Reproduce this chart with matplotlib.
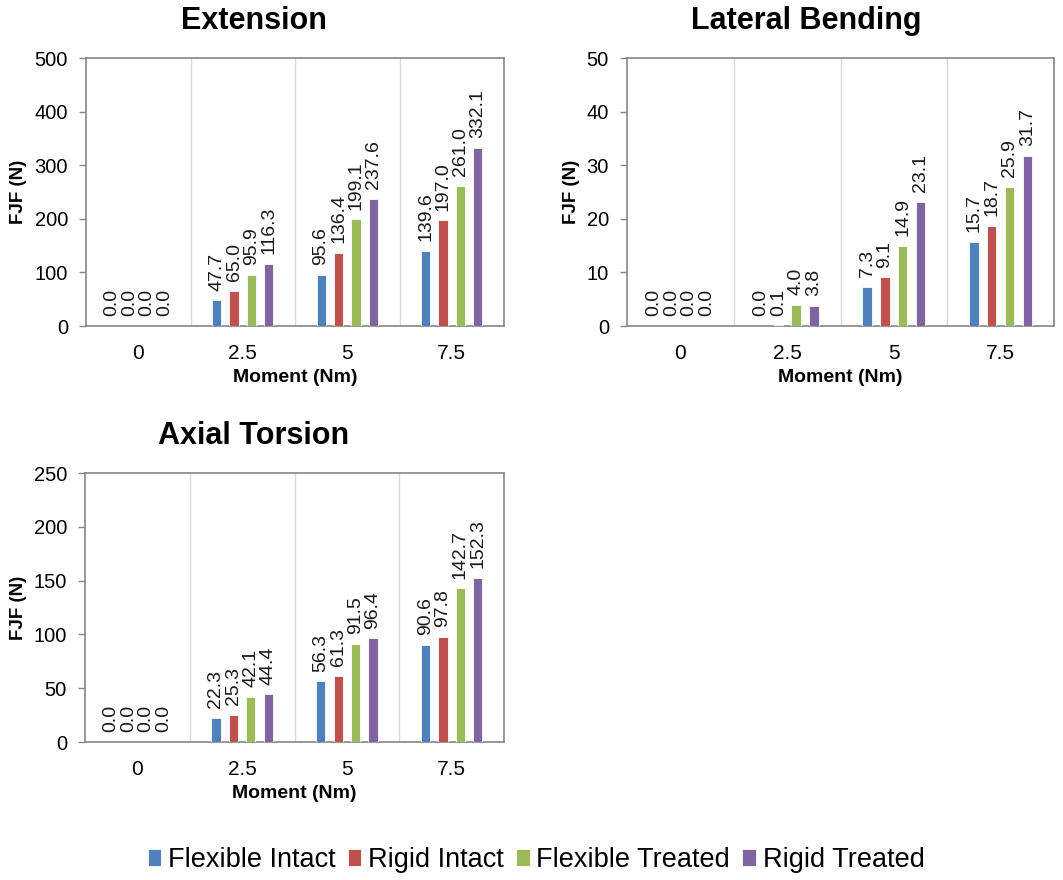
# FJF vs moment bar charts (Extension / Lateral Bending / Axial Torsion)

import matplotlib
matplotlib.use("Agg")
import matplotlib.pyplot as plt
import numpy as np

plt.rcParams["font.family"] = ["Liberation Sans", "DejaVu Sans"]

moments = ["0", "2.5", "5", "7.5"]
series = ["Flexible Intact", "Rigid Intact", "Flexible Treated", "Rigid Treated"]
COLORS = ["#4F81BD", "#C0504D", "#9BBB59", "#8064A2"]

# one list per series, values at 0 / 2.5 / 5 / 7.5 Nm
ext_flex_intact = [0.0, 47.7, 95.6, 139.6]
ext_rigid_intact = [0.0, 65.0, 136.4, 197.0]
ext_flex_treated = [0.0, 95.9, 199.1, 261.0]
ext_rigid_treated = [0.0, 116.3, 237.6, 332.1]

lb_flex_intact = [0.0, 0.0, 7.3, 15.7]
lb_rigid_intact = [0.0, 0.1, 9.1, 18.7]
lb_flex_treated = [0.0, 4.0, 14.9, 25.9]
lb_rigid_treated = [0.0, 3.8, 23.1, 31.7]

at_flex_intact = [0.0, 22.3, 56.3, 90.6]
at_rigid_intact = [0.0, 25.3, 61.3, 97.8]
at_flex_treated = [0.0, 42.1, 91.5, 142.7]
at_rigid_treated = [0.0, 44.4, 96.4, 152.3]

W, H = 1063, 880
FRAME = "#868686"


def px_axes(fig, left, top, right, bottom):
    return fig.add_axes([left / W, 1 - bottom / H, (right - left) / W, (bottom - top) / H])


def bar_panel(ax, data, ymax, ystep):
    x = np.arange(len(moments))
    offsets = [-0.25, -0.083, 0.083, 0.25]
    bars = []
    for vals, off, col in zip(data, offsets, COLORS):
        b = ax.bar(x + off, vals, width=0.088, color=col, edgecolor="white", linewidth=0.6, zorder=3)
        bars.append(b)
        for xi, v in zip(x + off, vals):
            ax.annotate(f"{v:.1f}", (xi, v), xytext=(0, 7), textcoords="offset points",
                        rotation=90, ha="center", va="bottom", fontsize=14, color="#1a1a1a")
    ax.set_xlim(-0.5, 3.5)
    ax.set_ylim(0, ymax)
    ax.set_yticks(np.arange(0, ymax + 1e-9, ystep))
    ax.set_xticks(x)
    ax.set_xticklabels(moments)
    ax.set_xticks([0.5, 1.5, 2.5], minor=True)
    ax.grid(which="minor", axis="x", color="#d9d9d9", linewidth=1, zorder=0)
    ax.tick_params(axis="x", which="both", length=0, pad=13, labelsize=15)
    ax.tick_params(axis="y", length=5, width=1, color=FRAME, pad=8, labelsize=14.5)
    for s in ax.spines.values():
        s.set_color(FRAME)
        s.set_linewidth(1.2)
    ax.set_xlabel("Moment (Nm)", fontsize=14, fontweight="bold", labelpad=4)
    ax.set_ylabel("FJF (N)", fontsize=13.5, fontweight="bold", labelpad=5)
    return bars


fig = plt.figure(figsize=(W / 100, H / 100), dpi=100)

ax1 = px_axes(fig, 86, 58, 504, 326)
bars = bar_panel(ax1, [ext_flex_intact, ext_rigid_intact, ext_flex_treated, ext_rigid_treated], 500, 100)
fig.text(254 / W, 1 - 29 / H, "Extension", ha="center", va="baseline", fontsize=22, fontweight="bold")

ax2 = px_axes(fig, 627, 58, 1054, 326)
bar_panel(ax2, [lb_flex_intact, lb_rigid_intact, lb_flex_treated, lb_rigid_treated], 50, 10)
fig.text(806 / W, 1 - 29 / H, "Lateral Bending", ha="center", va="baseline", fontsize=22, fontweight="bold")

ax3 = px_axes(fig, 85, 473, 504, 742)
bar_panel(ax3, [at_flex_intact, at_rigid_intact, at_flex_treated, at_rigid_treated], 250, 50)
fig.text(254 / W, 1 - 444 / H, "Axial Torsion", ha="center", va="baseline", fontsize=22, fontweight="bold")

fig.legend(bars, series, loc="center", bbox_to_anchor=(536 / W, 20 / H), ncol=4, frameon=False,
           fontsize=19.5, handlelength=0.5, handleheight=0.6, handletextpad=0.25, columnspacing=0.45)

fig.savefig("out.png", dpi=100)
